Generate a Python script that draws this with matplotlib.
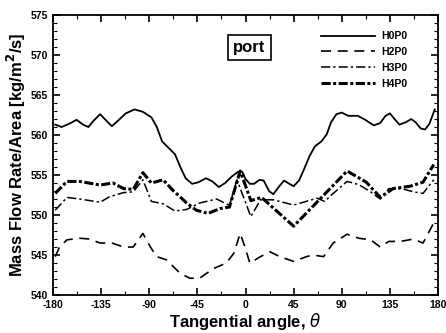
import numpy as np
import matplotlib
matplotlib.use('Agg')
import matplotlib.pyplot as plt
from matplotlib.ticker import MultipleLocator

plt.rcParams['font.family'] = ['Liberation Sans', 'DejaVu Sans']
plt.rcParams['axes.unicode_minus'] = False

# H0P0 - smooth solid curve
h0_ang = [-178, -172, -165, -158, -152, -147, -142, -136, -131, -125, -120, -112,
          -104, -96, -88, -83, -78, -72, -66, -61, -56, -50, -44, -37, -31, -25,
          -19, -13, -7, -3, 0, 4, 8, 13, 17, 22, 26, 31, 36, 41, 45, 50, 55, 60,
          65, 71, 76, 80, 85, 90, 96, 105, 112, 120, 126, 131, 135, 140, 144, 150,
          155, 159, 164, 168, 172, 177]
h0_val = [561.3, 561.0, 561.4, 561.9, 561.3, 561.0, 561.8, 562.6, 561.9, 561.1, 561.7, 562.7,
          563.2, 562.9, 562.2, 561.0, 559.2, 558.4, 557.6, 556.0, 554.6, 553.9, 554.1, 554.6,
          554.2, 553.5, 554.0, 554.8, 555.4, 555.4, 554.5, 553.9, 553.9, 554.4, 554.3, 553.0,
          552.6, 553.5, 554.3, 553.9, 553.6, 554.3, 555.8, 557.4, 558.6, 559.2, 560.1, 561.6,
          562.6, 562.8, 562.4, 562.4, 561.9, 561.2, 561.5, 562.4, 562.7, 561.9, 561.3, 561.6,
          562.0, 561.6, 560.8, 560.7, 561.4, 563.2]

# H2P0 - dashed
h2_ang = [-178, -174, -167, -155, -146, -136, -125, -114, -105, -96, -89, -83, -74,
          -61, -52, -43, -30, -18, -11, -5, 0, 4, 14, 23, 32, 45, 57, 63, 73, 82,
          95, 106, 117, 126, 134, 145, 157, 166, 176]
h2_val = [544.8, 546.0, 546.9, 547.1, 547.0, 546.5, 546.5, 546.0, 546.0, 547.7, 546.0, 544.8, 544.4,
          542.7, 542.1, 542.1, 543.3, 544.0, 545.2, 547.7, 545.8, 544.0, 544.8, 545.4, 544.8, 544.2,
          544.8, 545.0, 544.8, 546.5, 547.6, 547.1, 546.9, 546.0, 546.7, 546.7, 547.0, 546.5, 549.0]

# H3P0 - dash-dot
h3_ang = [-178, -167, -155, -136, -127, -114, -105, -96, -88, -77, -66, -55, -43,
          -27, -15, -8, 5, 14, 26, 45, 67, 74, 82, 95, 106, 117, 126, 134, 146,
          157, 166, 176]
h3_val = [550.6, 552.2, 552.0, 551.6, 552.3, 552.8, 552.9, 554.4, 551.7, 551.4, 550.5, 550.7, 551.5,
          552.0, 551.2, 554.4, 549.8, 551.9, 551.9, 551.25, 552.1, 551.7, 552.7, 554.2, 553.8, 552.9,
          552.0, 553.3, 553.3, 552.9, 552.7, 554.4]

# H4P0 - thick dash-dot-dot
h4_ang = [-178, -167, -155, -136, -124, -114, -105, -96, -88, -77, -68, -55, -46,
          -35, -24, -15, -5, 5, 15, 45, 95, 113, 126, 138, 154, 166, 176]
h4_val = [552.7, 554.2, 554.2, 553.75, 554.0, 553.3, 553.2, 555.3, 554.0, 554.4, 553.1, 551.5, 550.6,
          550.2, 550.8, 551.0, 555.5, 551.8, 552.2, 548.6, 555.5, 554.1, 552.2, 553.3, 553.6, 554.1, 556.3]

xticks = [-180, -135, -90, -45, 0, 45, 90, 135, 180]

fig = plt.figure(figsize=(4.46, 3.33), dpi=100)
ax = fig.add_axes([0.119, 0.114, 0.863, 0.841])

ax.plot(h0_ang, h0_val, color='black', lw=1.3, ls='-', label='H0P0')
ax.plot(h2_ang, h2_val, color='black', lw=1.2, ls=(0, (6, 4)), label='H2P0')
ax.plot(h3_ang, h3_val, color='black', lw=1.1, ls=(0, (6, 2, 1.5, 2)), label='H3P0')
ax.plot(h4_ang, h4_val, color='black', lw=2.2, ls=(0, (3, 0.8, 1, 0.8)), label='H4P0')

ax.set_xlim(-180, 180)
ax.set_ylim(540, 575)
ax.set_xticks(xticks)
ax.xaxis.set_minor_locator(MultipleLocator(22.5))
ax.yaxis.set_major_locator(MultipleLocator(5))
ax.yaxis.set_minor_locator(MultipleLocator(1))
ax.tick_params(which='both', direction='in', top=True, right=True, labelsize=7.5)
ax.tick_params(which='major', length=5, width=1.2)
ax.tick_params(which='minor', length=3, width=0.8)
for lab in ax.get_xticklabels() + ax.get_yticklabels():
    lab.set_fontweight('bold')
for s in ax.spines.values():
    s.set_linewidth(1.3)

ax.set_xlabel(r'Tangential angle, $\theta$', fontsize=12, fontweight='bold', labelpad=1)
ax.set_ylabel(r'Mass Flow Rate/Area [kg/m$^\mathbf{2}$/s]', fontsize=12, fontweight='bold', labelpad=2)

ax.text(0.51, 0.885, 'port', transform=ax.transAxes, ha='center', va='center',
        fontsize=12, fontweight='bold',
        bbox=dict(boxstyle='square,pad=0.3', fc='white', ec='black', lw=1.2))

leg = ax.legend(loc='upper right', bbox_to_anchor=(0.945, 0.975), frameon=False,
                handlelength=5.2, labelspacing=0.55, handletextpad=0.6,
                prop={'weight': 'bold', 'size': 7.5})

fig.savefig('out.png', dpi=100)
